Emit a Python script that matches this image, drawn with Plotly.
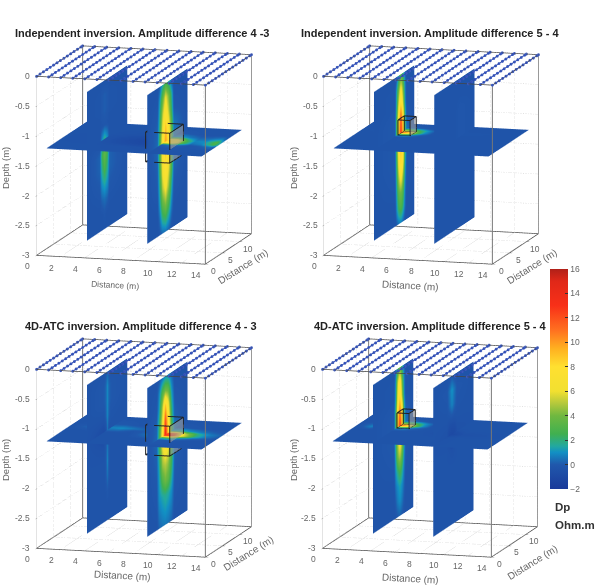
import plotly.graph_objects as go

# Resistivity-change slices (Dp, Ohm.m) on two vertical and one horizontal plane
PLANE_X = [3.9, 8.9]
SLICE_DEPTH = -1.24
Z_ROWS = [-0.26, -0.5, -0.75, -1.0, -1.25, -1.5, -1.75, -2.0, -2.25, -2.5, -2.75]
BG = -0.3

# Panel A: independent inversion, difference 4-3
A_V1_Y = [1, 4.8, 5.4, 6.2, 7, 7.6, 12.8]
A_V1 = [
    [BG, BG, BG, BG, BG, BG, BG],
    [BG, -.2, 0, .1, 0, -.2, BG],
    [BG, -.2, 0, .1, 0, -.2, BG],
    [BG, BG, -.2, -.1, -.2, BG, BG],
    [BG, BG, 1, 2, 1, BG, BG],
    [BG, .2, 2.5, 3.5, 2.5, .2, BG],
    [BG, .2, 1.8, 2.8, 1.8, .2, BG],
    [BG, 0, 1, 1.5, 1, 0, BG],
    [BG, -.2, .2, .4, .2, -.2, BG],
    [BG, BG, BG, -.1, BG, BG, BG],
    [BG, BG, BG, BG, BG, BG, BG],
]
A_V2_Y = [1, 4, 4.6, 5.5, 6.4, 7.3, 8.2, 8.8, 12.8]
A_V2 = [
    [BG, BG, 0, 1.5, 2.5, 1.5, 0, BG, BG],
    [BG, -.2, 1, 3.5, 6, 4, 1.5, -.2, BG],
    [BG, 0, 1.5, 5, 7.5, 5, 2, 0, BG],
    [BG, .2, 2, 6, 9, 6.5, 3, .5, BG],
    [BG, .3, 2.5, 7, 10, 7.5, 3.5, .6, BG],
    [BG, .2, 2.5, 6.5, 8.5, 6.5, 3, .4, BG],
    [BG, .1, 2, 6, 7.5, 5.5, 2.5, .2, BG],
    [BG, 0, 1.5, 5, 6.5, 4.5, 1.5, 0, BG],
    [BG, -.2, 1, 3.5, 4.5, 3, .8, -.2, BG],
    [BG, BG, .3, 2, 2.5, 1.5, .2, BG, BG],
    [BG, BG, -.2, .3, .5, .2, BG, BG, BG],
]
A_H_X = [.53, 4, 7, 8, 8.9, 9.6, 10.4, 11.2, 12, 13, 13.4]
A_H_Y = [1, 3.5, 5, 6, 7, 8.5, 10, 12.8]
A_H = [
    [BG, BG, BG, BG, BG, BG, BG, BG, BG, BG, BG],
    [BG, BG, -.4, -.5, BG, -.2, -.2, -.2, -.2, -.2, BG],
    [BG, -.4, -.9, -1, 0, .5, .2, -.2, 0, .5, 0],
    [BG, -.4, -1, -1.2, 8, 8, 3, .5, .8, 2.8, 1.5],
    [BG, -.4, -.8, -.9, 8.5, 8, 3, .8, 1, 3, 1],
    [BG, BG, -.5, -.5, .8, 1.2, .6, .2, .3, .8, 0],
    [BG, BG, BG, BG, -.1, 0, -.1, BG, BG, BG, BG],
    [BG, BG, BG, BG, BG, BG, BG, BG, BG, BG, BG],
]

# Panel B: independent inversion, difference 5-4
B_V1_Y = [1, 7.2, 7.7, 8.3, 8.9, 9.5, 10.1, 10.6, 12.8]
B_V1 = [
    [BG, BG, 0, 1.5, 3, 2, .3, BG, BG],
    [BG, -.2, 1.5, 4, 6.5, 4, .8, -.2, BG],
    [BG, -.2, 2, 6, 8.5, 5.5, 1, -.2, BG],
    [BG, 0, 3, 8, 12, 8, 2, 0, BG],
    [BG, 0, 3, 9, 13, 9, 2.5, .5, BG],
    [BG, 0, 3, 7.5, 9, 7, 2, .2, BG],
    [BG, 0, 2.5, 6.5, 8.5, 6.5, 1.5, 0, BG],
    [BG, -.1, 2, 5, 6.5, 4.5, 1, -.1, BG],
    [BG, -.2, 1.5, 3.5, 4, 3, .6, -.2, BG],
    [BG, BG, 1, 2.5, 3, 2, .4, BG, BG],
    [BG, BG, 0, .5, .8, .3, BG, BG, BG],
]
B_V2_Y = [1, 7, 8.5, 12.8]
B_V2 = [
    [BG, BG, BG, BG], [BG, BG, BG, BG], [BG, BG, -.1, BG], [BG, BG, -.1, BG],
    [BG, BG, -.1, BG], [BG, BG, BG, BG], [BG, BG, BG, BG], [BG, BG, BG, BG],
    [BG, BG, BG, BG], [BG, BG, BG, BG], [BG, BG, BG, BG],
]
B_H_X = [.53, 3, 3.9, 4.6, 5.2, 5.8, 6.5, 13.4]
B_H_Y = [1, 7, 8, 9, 10, 11, 12.8]
B_H = [
    [BG, BG, BG, BG, BG, BG, BG, BG],
    [BG, BG, BG, -.2, BG, BG, BG, BG],
    [BG, BG, 1.5, 1.5, .5, -.1, BG, BG],
    [BG, -.1, 12, 9, 3.5, 1, -.2, BG],
    [BG, -.1, 4, 3.5, 2.5, 1.2, -.1, BG],
    [BG, BG, 0, .2, .1, -.2, BG, BG],
    [BG, BG, BG, BG, BG, BG, BG, BG],
]

# Panel C: 4D-ATC inversion, difference 4-3
C_V1_Y = [1, 6, 6.6, 7, 7.4, 8, 12.8]
C_V1 = [
    [BG, -.2, 0, .2, 0, -.2, BG],
    [BG, 0, .3, 1, .3, 0, BG],
    [BG, 0, .3, 1, .3, 0, BG],
    [BG, BG, .2, .9, .2, -.2, BG],
    [BG, -.8, -.5, .6, BG, BG, BG],
    [BG, -.5, 0, .6, 0, BG, BG],
    [BG, BG, 0, .9, 0, BG, BG],
    [BG, BG, 0, .5, 0, BG, BG],
    [BG, BG, -.2, 0, -.2, BG, BG],
    [BG, BG, BG, BG, BG, BG, BG],
    [BG, BG, BG, BG, BG, BG, BG],
]
C_V2_Y = [1, 3.8, 4.5, 5.5, 6.3, 7.1, 8.1, 9, 12.8]
C_V2 = [
    [BG, BG, -.1, .5, 1, .8, .2, BG, BG],
    [BG, -.2, .8, 3, 4, 3.5, 1, -.2, BG],
    [BG, -.1, 1.2, 5, 9, 6.5, 1.8, 0, BG],
    [BG, .2, 2, 6, 12, 8, 2.5, .2, BG],
    [BG, .3, 2.5, 7, 14, 9, 3.5, .5, BG],
    [BG, .2, 2, 5.5, 7, 6, 3, .3, BG],
    [BG, .1, 1.5, 4.5, 5, 4.5, 2.5, .1, BG],
    [BG, 0, 1.2, 3, 4, 3.5, 1.8, 0, BG],
    [BG, -.1, 1, 1.5, 1.8, 1.6, 1, -.1, BG],
    [BG, -.2, .6, 1, 1.2, 1, .6, -.2, BG],
    [BG, BG, .2, .5, .6, .5, .2, BG, BG],
]
C_H_X = [.53, 3.9, 4.8, 6, 7.6, 8.4, 8.9, 9.6, 10.4, 11.4, 12.4, 13.4]
C_H_Y = [1, 4, 5, 6, 7, 8, 9.5, 12.8]
C_H = [
    [BG, BG, BG, BG, BG, BG, BG, BG, BG, BG, BG, BG],
    [BG, BG, BG, BG, BG, -.2, 0, 0, -.2, BG, BG, BG],
    [BG, BG, BG, BG, .2, .6, 2, 3, .8, .2, -.1, BG],
    [BG, BG, BG, BG, .5, 1.5, 13, 12, 6, 2, .5, 0],
    [BG, .3, .3, -.2, .2, 1, 12, 11, 5, 2, .7, .2],
    [BG, .8, 1, .5, -.1, .2, 1.5, 2, 1.2, .6, .2, -.1],
    [BG, 0, 0, -.2, BG, BG, 0, 0, -.1, -.2, BG, BG],
    [BG, BG, BG, BG, BG, BG, BG, BG, BG, BG, BG, BG],
]

# Panel D: 4D-ATC inversion, difference 5-4
D_V1_Y = [1, 7.2, 7.7, 8.3, 8.9, 9.5, 10.1, 10.6, 12.8]
D_V1 = [
    [BG, BG, .3, 2.5, 3.5, 2, .3, BG, BG],
    [BG, -.2, 1.2, 5.5, 7.5, 4, .8, -.2, BG],
    [BG, -.2, 1.5, 6.5, 8.5, 5, 1, -.2, BG],
    [BG, 0, 2.5, 8, 11, 8, 2, .2, BG],
    [BG, 0, 2.5, 9, 13, 9, 2.5, .5, BG],
    [BG, 0, 2, 5, 7, 5, 1.5, 0, BG],
    [BG, -.1, 1.5, 4, 5, 3.5, 1, -.1, BG],
    [BG, -.2, 1, 2, 2.8, 2, .6, -.2, BG],
    [BG, BG, .5, 1, 1.4, 1, .3, BG, BG],
    [BG, BG, .1, .7, 1, .6, 0, BG, BG],
    [BG, BG, -.2, 0, .2, 0, -.2, BG, BG],
]
D_V2_Y = [1, 5, 5.8, 6.5, 7.2, 8, 12.8]
D_V2 = [
    [BG, BG, BG, -.1, BG, BG, BG],
    [BG, -.1, .5, 1.1, .5, -.1, BG],
    [BG, -.2, .3, .8, .3, -.2, BG],
    [BG, BG, -.4, -.4, -.4, BG, BG],
    [BG, -.5, -.9, -1, -.9, -.5, BG],
    [BG, BG, -.4, -.5, -.4, BG, BG],
    [BG, BG, BG, BG, BG, BG, BG],
    [BG, BG, BG, BG, BG, BG, BG],
    [BG, BG, BG, BG, BG, BG, BG],
    [BG, BG, BG, BG, BG, BG, BG],
    [BG, BG, BG, BG, BG, BG, BG],
]
D_H_X = [.53, 1.2, 1.8, 2.4, 3.9, 4.6, 5.2, 5.8, 6.5, 8, 8.9, 9.8, 13.4]
D_H_Y = [1, 5, 6.5, 8, 9, 10, 11, 12.8]
D_H = [
    [BG, BG, BG, BG, BG, BG, BG, BG, BG, BG, BG, BG, BG],
    [BG, BG, BG, BG, BG, BG, BG, BG, BG, BG, -.4, BG, BG],
    [BG, BG, BG, BG, BG, BG, BG, BG, BG, -.5, -.9, -.5, BG],
    [BG, .1, .8, .1, 1, 1, .3, 0, BG, BG, -.5, BG, BG],
    [BG, 0, .3, 0, 12, 9, 3.5, 1, -.2, BG, BG, BG, BG],
    [BG, BG, BG, BG, 3.5, 3, 2.2, 1, -.1, BG, BG, BG, BG],
    [BG, BG, BG, BG, 0, .2, .1, -.2, BG, BG, BG, BG, BG],
    [BG, BG, BG, BG, BG, BG, BG, BG, BG, BG, BG, BG, BG],
]

# Target bodies outlined in each panel: x span, y span, z span
BODY_A = ([8.2, 10.2], [3.0, 7.0], [-1.46, -0.96])
BODY_B = ([4.0, 5.0], [7.7, 9.5], [-1.24, -0.98])

TITLES = [
    "Independent inversion. Amplitude difference 4 -3",
    "Independent inversion. Amplitude difference 5 - 4",
    "4D-ATC inversion. Amplitude difference 4 - 3",
    "4D-ATC inversion. Amplitude difference 5 - 4",
]
X_TICKS = [0, 2, 4, 6, 8, 10, 12, 14]
Y_TICKS = [0, 5, 10]
Z_TICKS = [-3, -2.5, -2, -1.5, -1, -0.5, 0]
CB_TICKS = [-2, 0, 2, 4, 6, 8, 10, 12, 14, 16]
X_MAX, Y_MAX = 14, 13.5
ELECTRODE_X = list(range(0, 15))
ELECTRODE_Y = [0, 1, 2, 3, 4, 5, 6, 7, 8, 9, 10, 11, 12, 13, 13.5]

COLORSCALE = [
    [0.0, "#1a3a9a"], [2 / 18, "#2058ac"], [3 / 18, "#1290c4"], [3.5 / 18, "#22a8a0"],
    [4.5 / 18, "#40b050"], [6 / 18, "#70b840"], [7 / 18, "#b4c83c"], [8 / 18, "#f2e030"],
    [10 / 18, "#ffe030"], [11.5 / 18, "#ffb020"], [13 / 18, "#ff7020"], [15 / 18, "#f83018"],
    [17 / 18, "#e02818"], [1.0, "#b02018"],
]

TICK_GREY = "#666666"
FONT = "Liberation Sans, Arial, sans-serif"
W, H = 599, 585
VIEW_R = 2.0
EYE_DIR = (0.266, -0.946, 0.186)
ASPECT = dict(x=1.28, y=1.242, z=1.33)

# Pixel centres of the four scenes; half-size of each viewport
CENTRES = [(143.5, 155), (431, 155), (143.5, 447.5), (429.5, 447.5)]
HALF = 137

fig = go.Figure()


def add_surface(x, y, z, c, scene, with_bar=False):
    colorbar = dict(
        thickness=18, thicknessmode="pixels", len=220, lenmode="pixels",
        x=550 / W, xanchor="left", y=1 - 379 / H, yanchor="middle", xpad=0, ypad=0,
        outlinewidth=0, ticks="inside", ticklen=3, tickcolor="#333333",
        tickvals=CB_TICKS, tickfont=dict(size=8.5, color=TICK_GREY, family=FONT),
    )
    fig.add_trace(go.Surface(
        x=x, y=y, z=z, surfacecolor=c, cmin=-2, cmax=16, colorscale=COLORSCALE,
        showscale=with_bar, colorbar=colorbar if with_bar else None,
        lighting=dict(ambient=1, diffuse=0, specular=0, fresnel=0, roughness=1),
        scene=scene, hoverinfo="skip",
    ))


def vertical_slice(x0, ys, values, scene):
    add_surface(
        [[x0] * len(ys) for _ in Z_ROWS],
        [list(ys) for _ in Z_ROWS],
        [[z] * len(ys) for z in Z_ROWS],
        values, scene,
    )


def horizontal_slice(xs, ys, values, scene, with_bar=False):
    add_surface(
        [list(xs) for _ in ys],
        [[y] * len(xs) for y in ys],
        [[SLICE_DEPTH] * len(xs) for _ in ys],
        values, scene, with_bar,
    )


def polyline(points, scene, color, width, dash="solid"):
    xs, ys, zs = zip(*points)
    fig.add_trace(go.Scatter3d(
        x=xs, y=ys, z=zs, mode="lines", line=dict(color=color, width=width, dash=dash),
        scene=scene, hoverinfo="skip", showlegend=False,
    ))


def frame(scene):
    # Dotted grid on the far walls and floor
    for t in Y_TICKS:
        polyline([(0, t, -3), (0, t, 0)], scene, "#c4c4c4", 1, "dot")
        polyline([(0, t, -3), (X_MAX, t, -3)], scene, "#c4c4c4", 1, "dot")
    for t in X_TICKS:
        polyline([(t, Y_MAX, -3), (t, Y_MAX, 0)], scene, "#c4c4c4", 1, "dot")
        polyline([(t, 0, -3), (t, Y_MAX, -3)], scene, "#c4c4c4", 1, "dot")
    for t in Z_TICKS:
        polyline([(0, 0, t), (0, Y_MAX, t), (X_MAX, Y_MAX, t)], scene, "#c4c4c4", 1, "dot")
    # Box outline
    dark, mid, light = "#444444", "#777777", "#c8c8c8"
    polyline([(0, 0, -3), (X_MAX, 0, -3), (X_MAX, Y_MAX, -3), (0, Y_MAX, -3), (0, 0, -3)], scene, dark, 1.5)
    polyline([(X_MAX, 0, -3), (X_MAX, 0, 0)], scene, mid, 2)
    polyline([(0, Y_MAX, -3), (0, Y_MAX, 0)], scene, mid, 2)
    polyline([(X_MAX, Y_MAX, -3), (X_MAX, Y_MAX, 0)], scene, mid, 1.5)
    polyline([(0, 0, -3), (0, 0, 0)], scene, light, 1)
    polyline([(0, 0, 0), (X_MAX, 0, 0), (X_MAX, Y_MAX, 0), (0, Y_MAX, 0), (0, 0, 0)], scene, dark, 1.5)


def electrodes(scene):
    xs, ys, zs = [], [], []
    for ex in ELECTRODE_X:
        xs += [ex] * len(ELECTRODE_Y) + [None]
        ys += ELECTRODE_Y + [None]
        zs += [0] * len(ELECTRODE_Y) + [None]
    fig.add_trace(go.Scatter3d(
        x=xs, y=ys, z=zs, mode="lines+markers",
        line=dict(color="#2a48b0", width=2),
        marker=dict(size=1.7, color="#3a58bc", symbol="circle"),
        scene=scene, hoverinfo="skip", showlegend=False,
    ))


def body(bounds, scene):
    (x0, x1), (y0, y1), (z0, z1) = bounds
    polyline([(x0, y0, z1), (x1, y0, z1), (x1, y1, z1), (x0, y1, z1), (x0, y0, z1)], scene, "#222222", 2)
    polyline([(x0, y0, z0), (x1, y0, z0), (x1, y1, z0), (x0, y1, z0), (x0, y0, z0)], scene, "#222222", 2)
    for px, py in [(x0, y0), (x1, y0), (x1, y1), (x0, y1)]:
        polyline([(px, py, z0), (px, py, z1)], scene, "#222222", 2)
    fig.add_trace(go.Mesh3d(
        x=[x1, x1, x1, x1], y=[y0, y1, y1, y0], z=[z0, z0, z1, z1],
        i=[0, 0], j=[1, 2], k=[2, 3], color="#9a9a9a", opacity=0.6,
        flatshading=True, lighting=dict(ambient=1, diffuse=0, specular=0),
        scene=scene, hoverinfo="skip",
    ))


PANELS = [
    ("scene", A_V1_Y, A_V1, A_V2_Y, A_V2, A_H_X, A_H_Y, A_H, BODY_A),
    ("scene2", B_V1_Y, B_V1, B_V2_Y, B_V2, B_H_X, B_H_Y, B_H, BODY_B),
    ("scene3", C_V1_Y, C_V1, C_V2_Y, C_V2, C_H_X, C_H_Y, C_H, BODY_A),
    ("scene4", D_V1_Y, D_V1, D_V2_Y, D_V2, D_H_X, D_H_Y, D_H, BODY_B),
]


def axis(ticks, rng):
    return dict(
        range=rng, tickvals=ticks, showticklabels=False, showgrid=False, zeroline=False,
        showline=False, showbackground=False, showspikes=False, ticks="outside", ticklen=3,
        tickcolor="#555555", autorange=False, title=dict(text=""),
    )


def tick_label(t, x, y, z, dx, dy, anchor="center"):
    return dict(
        x=x, y=y, z=z, text=f"{t:g}", showarrow=False, xshift=dx, yshift=dy,
        xanchor=anchor, yanchor="middle", font=dict(size=8.5, color=TICK_GREY, family=FONT),
    )


def tick_labels():
    labels = [tick_label(t, t, 0, -3, -9, -11) for t in X_TICKS]
    labels += [tick_label(t, X_MAX, t, -3, 9, -7) for t in Y_TICKS]
    labels += [tick_label(t, 0, 0, t, -4, 0, "right") for t in Z_TICKS]
    return labels


layout = {}
for i, (scene, y1, v1, y2, v2, hx, hy, hv, bd) in enumerate(PANELS):
    frame(scene)
    vertical_slice(PLANE_X[0], y1, v1, scene)
    vertical_slice(PLANE_X[1], y2, v2, scene)
    horizontal_slice(hx, hy, hv, scene, with_bar=(i == 0))
    body(bd, scene)
    electrodes(scene)
    cx, cy = CENTRES[i]
    layout[scene] = dict(
        domain=dict(x=[(cx - HALF) / W, (cx + HALF) / W], y=[1 - (cy + HALF) / H, 1 - (cy - HALF) / H]),
        aspectmode="manual", aspectratio=ASPECT,
        xaxis=axis(X_TICKS, [0, X_MAX]),
        yaxis=axis(Y_TICKS, [0, Y_MAX]),
        zaxis=axis(Z_TICKS, [-3, 0]),
        annotations=tick_labels(),
        camera=dict(
            up=dict(x=0, y=0, z=1), center=dict(x=0, y=0, z=0),
            eye=dict(x=EYE_DIR[0] * VIEW_R, y=EYE_DIR[1] * VIEW_R, z=EYE_DIR[2] * VIEW_R),
            projection=dict(type="orthographic"),
        ),
    )

TITLE_POS = [(13, 33), (299, 33), (23, 326), (312, 326)]
annotations = [
    dict(text=f"<b>{t}</b>", x=px / W, y=1 - py / H, xref="paper", yref="paper", xanchor="left",
         yanchor="middle", showarrow=False, font=dict(size=11, color="#222222", family=FONT))
    for t, (px, py) in zip(TITLES, TITLE_POS)
]
# Axis titles, each panel: (text, centre x, centre y, angle, size)
AXIS_TITLES = [
    ("Distance (m)", 115, 285, 3, 8.5), ("Distance (m)", 243, 267, -32, 10), ("Depth (m)", 5, 168, -90, 9.5),
    ("Distance (m)", 410, 285, 3, 10), ("Distance (m)", 532, 267, -32, 10), ("Depth (m)", 293, 168, -90, 9.5),
    ("Distance (m)", 122, 575, 3, 10), ("Distance (m)", 248, 553, -32, 10), ("Depth (m)", 5, 460, -90, 9.5),
    ("Distance (m)", 410, 578, 3, 10), ("Distance (m)", 532, 562, -32, 10), ("Depth (m)", 293, 460, -90, 9.5),
]
for label, px, py, ang, size in AXIS_TITLES:
    annotations.append(dict(text=label, x=px / W, y=1 - py / H, xref="paper", yref="paper",
                            xanchor="center", yanchor="middle", showarrow=False, textangle=ang,
                            font=dict(size=size, color=TICK_GREY, family=FONT)))
for label, px, py in [("Dp", 553, 507), ("Ohm.m", 553, 525)]:
    annotations.append(dict(text=f"<b>{label}</b>", x=px / W, y=1 - py / H, xref="paper", yref="paper",
                            xanchor="left", yanchor="middle", showarrow=False,
                            font=dict(size=11.5, color="#333333", family=FONT)))

fig.update_layout(
    width=W, height=H, margin=dict(l=0, r=0, t=0, b=0), paper_bgcolor="white",
    showlegend=False, annotations=annotations, font=dict(family=FONT), **layout,
)
fig.write_html("out.html")
